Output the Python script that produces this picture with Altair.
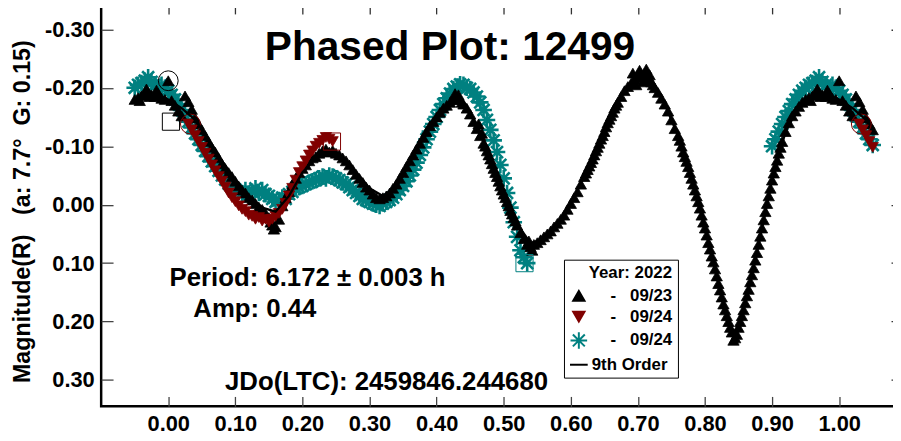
import altair as alt
import pandas as pd

# ---------------- data ----------------
series_keys = ["A", "B", "C", "D"]
legend_names = ["\u200b\u00a0\u00a0\u00a0\u00a0-\u00a0\u00a0\u00a009/23",
                "\u200b\u00a0\u00a0\u00a0\u00a0-\u00a0\u00a0\u00a009/24",
                "\u200b\u00a0\u00a0\u00a0\u00a0-\u00a0\u00a0\u00a009/24",
                "9th Order"]

# 09/23 (black triangles)
black_phase = [
    0.000, 0.005, 0.010, 0.015, 0.020, 0.025, 0.030, 0.035, 0.040, 0.045,
    0.050, 0.055, 0.060, 0.065, 0.070, 0.075, 0.080, 0.085, 0.090, 0.095,
    0.100, 0.105, 0.110, 0.115, 0.120, 0.125, 0.130, 0.135, 0.140, 0.145,
    0.150, 0.155, 0.160, 0.165, 0.170, 0.175, 0.180, 0.185, 0.190, 0.195,
    0.200, 0.205, 0.210, 0.215, 0.220, 0.225, 0.230, 0.235, 0.240, 0.245,
    0.250, 0.255, 0.260, 0.265, 0.270, 0.275, 0.280, 0.285, 0.290, 0.295,
    0.300, 0.305, 0.310, 0.315, 0.320, 0.325, 0.330, 0.335, 0.340, 0.345,
    0.350, 0.355, 0.360, 0.365, 0.370, 0.375, 0.380, 0.385, 0.390, 0.395,
    0.400, 0.405, 0.410, 0.415, 0.420, 0.425, 0.430, 0.435, 0.440, 0.445,
    0.450, 0.455, 0.460, 0.465, 0.470, 0.475, 0.480, 0.485, 0.490, 0.495,
    0.500, 0.505, 0.510, 0.515, 0.520, 0.525, 0.530, 0.535, 0.540, 0.545,
    0.550, 0.555, 0.560, 0.565, 0.570, 0.575, 0.580, 0.585, 0.590, 0.595,
    0.600, 0.605, 0.610, 0.615, 0.620, 0.625, 0.630, 0.635, 0.640, 0.645,
    0.650, 0.655, 0.660, 0.665, 0.670, 0.675, 0.680, 0.685, 0.690, 0.695,
    0.700, 0.705, 0.710, 0.715, 0.720, 0.725, 0.730, 0.735, 0.740, 0.745,
    0.750, 0.755, 0.760, 0.765, 0.770, 0.775, 0.780, 0.785, 0.790, 0.795,
    0.800, 0.805, 0.810, 0.815, 0.820, 0.825, 0.830, 0.835, 0.840, 0.845,
    0.850, 0.855, 0.860, 0.865, 0.870, 0.875, 0.880, 0.885, 0.890, 0.895,
    0.900, 0.905, 0.910, 0.915, 0.920, 0.925, 0.930, 0.935, 0.940, 0.945,
    0.950, 0.955, 0.960, 0.965, 0.970, 0.975, 0.980, 0.985, 0.990, 0.995,
]
black_mag = [
    -0.212, -0.178, -0.170, -0.160, -0.152, -0.186, -0.176, -0.163, -0.148, -0.138,
    -0.128, -0.118, -0.108, -0.098, -0.090, -0.080, -0.070, -0.062, -0.055, -0.048,
    -0.040, -0.032, -0.025, -0.020, -0.012, -0.008, -0.002, 0.004, 0.008, 0.015,
    0.022, 0.035, 0.038, 0.025, 0.002, -0.012, -0.022, -0.035, -0.045, -0.055,
    -0.062, -0.068, -0.075, -0.080, -0.082, -0.088, -0.092, -0.095, -0.090, -0.093,
    -0.088, -0.085, -0.080, -0.075, -0.068, -0.060, -0.052, -0.045, -0.038, -0.030,
    -0.025, -0.018, -0.012, -0.010, -0.012, -0.015, -0.020, -0.028, -0.035, -0.045,
    -0.055, -0.065, -0.075, -0.085, -0.095, -0.105, -0.115, -0.125, -0.135, -0.142,
    -0.150, -0.158, -0.165, -0.170, -0.175, -0.180, -0.182, -0.180, -0.172, -0.165,
    -0.155, -0.142, -0.130, -0.118, -0.105, -0.092, -0.078, -0.062, -0.048, -0.032,
    -0.018, -0.005, 0.010, 0.022, 0.035, 0.048, 0.058, 0.068, 0.072, 0.068,
    0.065, 0.060, 0.055, 0.050, 0.045, 0.038, 0.032, 0.025, 0.018, 0.008,
    -0.002, -0.012, -0.022, -0.035, -0.048, -0.060, -0.072, -0.085, -0.098, -0.112,
    -0.125, -0.140, -0.152, -0.165, -0.175, -0.185, -0.195, -0.202, -0.208, -0.215,
    -0.222, -0.218, -0.225, -0.215, -0.210, -0.200, -0.192, -0.182, -0.172, -0.160,
    -0.145, -0.130, -0.118, -0.100, -0.082, -0.065, -0.045, -0.025, -0.005, 0.018,
    0.040, 0.065, 0.088, 0.110, 0.135, 0.158, 0.180, 0.200, 0.218, 0.228,
    0.210, 0.190, 0.168, 0.145, 0.120, 0.095, 0.068, 0.040, 0.012, -0.015,
    -0.042, -0.065, -0.088, -0.108, -0.125, -0.140, -0.152, -0.160, -0.168, -0.175,
    -0.180, -0.183, -0.186, -0.190, -0.192, -0.188, -0.185, -0.190, -0.182, -0.180,
]
# more 09/23 observations in the steep branches and around the extremes
black_phase_b = [
    0.1525, 0.1575, 0.4275, 0.4325, 0.4375,
    0.4625, 0.4675, 0.4725, 0.4775, 0.4825, 0.4875, 0.4925, 0.4975, 0.5025, 0.5075,
    0.5125, 0.5175, 0.5375, 0.5425,
    0.6225, 0.6275, 0.6325, 0.6375, 0.6425, 0.6475, 0.6525, 0.6575, 0.6625, 0.6675,
    0.6925, 0.6975, 0.7025, 0.7075, 0.7125, 0.7175, 0.7225,
    0.7625, 0.7675, 0.7725, 0.7775, 0.7825, 0.7875, 0.7925, 0.7975, 0.8025, 0.8075,
    0.8125, 0.8175, 0.8225, 0.8275, 0.8325, 0.8375, 0.8425,
    0.8475, 0.8525, 0.8575, 0.8625, 0.8675, 0.8725, 0.8775, 0.8825, 0.8875, 0.8925,
    0.8975, 0.9025, 0.9075, 0.9125,
    0.9575, 0.9675, 0.9725, 0.9825,
]
black_mag_b = [
    0.030, 0.042, -0.190, -0.188, -0.175,
    -0.138, -0.122, -0.100, -0.085, -0.070, -0.055, -0.040, -0.025, -0.012, 0.002,
    0.016, 0.028, 0.062, 0.078,
    -0.054, -0.066, -0.078, -0.092, -0.105, -0.118, -0.133, -0.146, -0.158, -0.170,
    -0.225, -0.205, -0.230, -0.210, -0.232, -0.222, -0.205,
    -0.110, -0.090, -0.074, -0.055, -0.035, -0.015, 0.006, 0.030, 0.052, 0.076,
    0.098, 0.122, 0.146, 0.170, 0.190, 0.210, 0.232,
    0.222, 0.200, 0.180, 0.156, 0.132, 0.108, 0.082, 0.054, 0.026, -0.002,
    -0.028, -0.054, -0.076, -0.098,
    -0.178, -0.198, -0.185, -0.196,
]

# 09/24 (dark red triangles down)
red_phase = [
    0.030, 0.035, 0.040, 0.045, 0.050, 0.055, 0.060, 0.065, 0.070, 0.075,
    0.080, 0.085, 0.090, 0.095, 0.100, 0.105, 0.110, 0.115, 0.120, 0.125,
    0.130, 0.135, 0.140, 0.145, 0.150, 0.155, 0.160, 0.165, 0.170, 0.175,
    0.180, 0.185, 0.190, 0.195, 0.200, 0.205, 0.210, 0.215, 0.220, 0.225,
    0.230, 0.235, 0.240, 0.245,
]
red_mag = [
    -0.138, -0.128, -0.118, -0.108, -0.098, -0.088, -0.078, -0.068, -0.058, -0.048,
    -0.040, -0.030, -0.020, -0.012, -0.005, 0.002, 0.008, 0.012, 0.018, 0.020,
    0.025, 0.022, 0.028, 0.025, 0.030, 0.025, 0.020, 0.015, 0.008, -0.002,
    -0.015, -0.028, -0.042, -0.055, -0.065, -0.075, -0.085, -0.092, -0.100, -0.105,
    -0.110, -0.115, -0.112, -0.108,
]

# 09/24 (teal asterisks)
teal_phase = [
    0.900, 0.905, 0.910, 0.915, 0.920, 0.925, 0.930, 0.935, 0.940, 0.945,
    0.950, 0.955, 0.960, 0.965, 0.970, 0.975, 0.980, 0.985, 0.990, 0.995,
    0.000, 0.005, 0.010, 0.015, 0.020, 0.025, 0.030, 0.035, 0.040, 0.045,
    0.050, 0.055, 0.060, 0.065, 0.070, 0.075, 0.080, 0.085, 0.090, 0.095,
    0.100, 0.105, 0.110, 0.115, 0.120, 0.125, 0.130, 0.135, 0.140, 0.145,
    0.150, 0.155, 0.160, 0.165, 0.170, 0.175, 0.180, 0.185, 0.190, 0.195,
    0.200, 0.205, 0.210, 0.215, 0.220, 0.225, 0.230, 0.235, 0.240, 0.245,
    0.250, 0.255, 0.260, 0.265, 0.270, 0.275, 0.280, 0.285, 0.290, 0.295,
    0.300, 0.305, 0.310, 0.315, 0.320, 0.325, 0.330, 0.335, 0.340, 0.345,
    0.350, 0.355, 0.360, 0.365, 0.370, 0.375, 0.380, 0.385, 0.390, 0.395,
    0.400, 0.405, 0.410, 0.415, 0.420, 0.425, 0.430, 0.435, 0.440, 0.445,
    0.450, 0.455, 0.460, 0.465, 0.470, 0.475, 0.480, 0.485, 0.490, 0.495,
    0.500, 0.505, 0.510, 0.515, 0.520, 0.525, 0.530, 0.535,
]
teal_mag = [
    -0.100, -0.112, -0.125, -0.138, -0.150, -0.160, -0.172, -0.180, -0.188, -0.195,
    -0.200, -0.205, -0.208, -0.212, -0.218, -0.210, -0.205, -0.198, -0.205, -0.200,
    -0.195, -0.188, -0.180, -0.172, -0.162, -0.152, -0.142, -0.132, -0.122, -0.112,
    -0.102, -0.092, -0.083, -0.074, -0.066, -0.058, -0.050, -0.043, -0.036, -0.030,
    -0.026, -0.022, -0.020, -0.025, -0.018, -0.022, -0.028, -0.020, -0.025, -0.018,
    -0.015, -0.010, -0.005, -0.008, -0.012, -0.010, -0.018, -0.022, -0.028, -0.030,
    -0.032, -0.035, -0.038, -0.040, -0.042, -0.045, -0.048, -0.045, -0.050, -0.048,
    -0.045, -0.042, -0.038, -0.035, -0.030, -0.025, -0.020, -0.015, -0.010, -0.008,
    -0.005, -0.002, 0.000, 0.002, -0.002, -0.005, -0.008, -0.012, -0.018, -0.025,
    -0.032, -0.040, -0.050, -0.060, -0.072, -0.085, -0.098, -0.112, -0.125, -0.138,
    -0.150, -0.162, -0.172, -0.182, -0.190, -0.198, -0.202, -0.206, -0.205, -0.200,
    -0.198, -0.192, -0.185, -0.175, -0.162, -0.145, -0.128, -0.110, -0.090, -0.068,
    -0.045, -0.020, 0.005, 0.030, 0.055, 0.078, 0.090, 0.100,
]

# 9th order Fourier fit
fit_phase = [0.00, 0.02, 0.04, 0.06, 0.08, 0.10, 0.12, 0.14, 0.16, 0.18,
             0.20, 0.22, 0.24, 0.26, 0.28, 0.30, 0.32, 0.34, 0.36, 0.38,
             0.40, 0.42, 0.44, 0.46, 0.48, 0.50, 0.52, 0.54, 0.56, 0.58,
             0.60, 0.62, 0.64, 0.66, 0.68, 0.70, 0.72, 0.74, 0.76, 0.78,
             0.80, 0.82, 0.84, 0.845, 0.86, 0.88, 0.90, 0.92, 0.94, 0.96, 0.98]
fit_mag = [-0.180, -0.165, -0.145, -0.112, -0.075, -0.042, -0.015, 0.005, 0.012, -0.015,
           -0.055, -0.080, -0.088, -0.080, -0.055, -0.028, -0.015, -0.030, -0.072, -0.115,
           -0.150, -0.172, -0.175, -0.135, -0.080, -0.020, 0.033, 0.066, 0.058, 0.033,
           -0.002, -0.048, -0.098, -0.152, -0.195, -0.218, -0.210, -0.172, -0.118, -0.045,
           0.040, 0.135, 0.215, 0.225, 0.168, 0.068, -0.042, -0.125, -0.168, -0.186, -0.188]

# first / last observation markers
circle_phase = [0.000, 0.033, 1.033]
circle_mag = [-0.212, -0.138, -0.138]
circle_series = ["A", "B", "B"]
square_phase = [0.004, 0.244, 0.531]
square_mag = [-0.142, -0.108, 0.100]
square_series = ["A", "B", "C"]

x_ticks = [0.0, 0.1, 0.2, 0.3, 0.4, 0.5, 0.6, 0.7, 0.8, 0.9, 1.0]
y_ticks = [-0.3, -0.2, -0.1, 0.0, 0.1, 0.2, 0.3]

title_text = "Phased Plot: 12499"
period_text = "Period: 6.172 \u00b1 0.003 h"
amp_text = "Amp: 0.44"
jd_text = "JDo(LTC): 2459846.244680"
y_title = "Magnitude(R)\u00a0\u00a0\u00a0(a: 7.7\u00b0\u00a0\u00a0G: 0.15)"
legend_title = "Year: 2022"


def phased(phases, mags, key, wrap):
    rows = []
    for p, m in zip(phases, mags):
        rows.append({"phase": p, "mag": m, "series": key})
        if p < wrap:
            rows.append({"phase": p + 1.0, "mag": m, "series": key})
        if p > 1.0 - wrap:
            rows.append({"phase": p - 1.0, "mag": m, "series": key})
    return rows


black_df = pd.DataFrame(phased(black_phase + black_phase_b, black_mag + black_mag_b, "A", 0.055))
red_df = pd.DataFrame(phased(red_phase, red_mag, "B", 0.055))
teal_df = pd.DataFrame(phased(teal_phase, teal_mag, "C", 0.055))
fit_df = pd.DataFrame(phased(fit_phase, fit_mag, "D", 0.05)).sort_values("phase")
circ_df = pd.DataFrame({"phase": circle_phase, "mag": circle_mag, "series": circle_series})
sq_df = pd.DataFrame({"phase": square_phase, "mag": square_mag, "series": square_series})

FONT = "Liberation Sans"
ASTERISK = "M-1,0L1,0M0,-1L0,1M-0.72,-0.72L0.72,0.72M-0.72,0.72L0.72,-0.72"

xscale = alt.Scale(domain=[-0.10, 1.095], nice=False, zero=False)
yscale = alt.Scale(domain=[-0.345, 0.345], reverse=True, nice=False, zero=False)
fill_scale = alt.Scale(domain=series_keys, range=["#000000", "#800000", "transparent", "transparent"])
stroke_scale = alt.Scale(domain=series_keys, range=["#000000", "#800000", "#008080", "#000000"])
shape_scale = alt.Scale(domain=series_keys, range=["triangle-up", "triangle-down", ASTERISK, "stroke"])
size_scale = alt.Scale(type="ordinal", domain=series_keys, range=[130, 130, 280, 320])

label_expr = ""
for k, n in zip(series_keys[:-1], legend_names[:-1]):
    label_expr += "datum.value == '%s' ? '%s' : " % (k, n)
label_expr += "'%s'" % legend_names[-1]

legend = alt.Legend(
    orient="none", legendX=467, legendY=259, title=legend_title,
    titleAnchor="end", titleFont=FONT, titleFontSize=17, titleFontWeight="bold",
    titleColor="black", titlePadding=6, labelExpr=label_expr, labelFont=FONT,
    labelFontSize=17, labelFontWeight="bold", labelColor="black", labelOffset=3,
    fillColor="white", strokeColor="black", padding=5, rowPadding=2,
    symbolStrokeWidth=2, symbolOpacity=1,
)

num_expr = "(datum.value < -0.0001 ? '-' : '') + format(abs(datum.value), '.2f')"

bottom_axis = alt.Axis(orient="bottom", values=x_ticks, offset=-10, tickSize=10,
                       tickColor="#444444", tickWidth=1.3, domain=False, grid=False,
                       labelExpr=num_expr, labelFont=FONT, labelFontSize=22,
                       labelFontWeight="bold", labelColor="black", labelPadding=7,
                       labelFlush=False, labelOverlap=False, title=None)
left_axis = alt.Axis(orient="left", values=y_ticks, offset=-12, tickSize=12,
                     tickColor="#444444", tickWidth=1.3, domain=False, grid=False,
                     labelExpr=num_expr, labelFont=FONT, labelFontSize=22,
                     labelFontWeight="bold", labelColor="black", labelPadding=7,
                     labelFlush=False, labelOverlap=False,
                     title=y_title, titleFont=FONT, titleFontSize=23.5,
                     titleFontWeight="bold", titleColor="black", titleAngle=270,
                     titleX=-91, titleY=210, titleAlign="center", titleBaseline="middle")
top_axis = alt.Axis(orient="top", values=x_ticks, offset=-11, tickSize=11,
                    tickColor="#333333", tickWidth=1.3, domain=False, grid=False,
                    labels=False, title=None)
right_axis = alt.Axis(orient="right", values=y_ticks, offset=-12, tickSize=12,
                      tickColor="#333333", tickWidth=1.3, domain=False, grid=False,
                      labels=False, title=None)


def enc_points(chart, xaxis=None, yaxis=None):
    return chart.encode(
        x=alt.X("phase:Q", scale=xscale, axis=xaxis),
        y=alt.Y("mag:Q", scale=yscale, axis=yaxis),
        fill=alt.Fill("series:N", scale=fill_scale, legend=legend),
        stroke=alt.Stroke("series:N", scale=stroke_scale, legend=legend),
        shape=alt.Shape("series:N", scale=shape_scale, legend=legend),
        size=alt.Size("series:N", scale=size_scale, legend=legend),
    )


teal_layer = enc_points(alt.Chart(teal_df).mark_point(filled=False, strokeWidth=2.6, opacity=1),
                        top_axis, right_axis)
black_layer = enc_points(alt.Chart(black_df).mark_point(filled=True, strokeWidth=0.8, opacity=1))
red_layer = enc_points(alt.Chart(red_df).mark_point(filled=True, strokeWidth=0.8, opacity=1))

circ_layer = alt.Chart(circ_df).mark_point(shape="circle", filled=False, size=400,
                                           strokeWidth=1, opacity=1).encode(
    x=alt.X("phase:Q", scale=xscale, axis=None),
    y=alt.Y("mag:Q", scale=yscale, axis=None),
    stroke=alt.Stroke("series:N", scale=stroke_scale, legend=legend),
)
sq_layer = alt.Chart(sq_df).mark_point(shape="square", filled=False, size=300,
                                       strokeWidth=1, opacity=1).encode(
    x=alt.X("phase:Q", scale=xscale, axis=None),
    y=alt.Y("mag:Q", scale=yscale, axis=None),
    stroke=alt.Stroke("series:N", scale=stroke_scale, legend=legend),
)

fit_layer = alt.Chart(fit_df).mark_line(strokeWidth=2.4).encode(
    x=alt.X("phase:Q", scale=xscale, axis=bottom_axis),
    y=alt.Y("mag:Q", scale=yscale, axis=left_axis),
    stroke=alt.Stroke("series:N", scale=stroke_scale, legend=legend),
)


def text_layer(txt, x, y, size, align):
    return alt.Chart(alt.Data(values=[{}])).mark_text(
        align=align, baseline="alphabetic", font=FONT, fontSize=size,
        fontWeight="bold", color="black").encode(
        x=alt.value(x), y=alt.value(y), text=alt.value(txt))


chart = alt.layer(
    teal_layer, black_layer, red_layer, circ_layer, sq_layer, fit_layer,
    text_layer(title_text, 352, 58, 41, "center"),
    text_layer(period_text, 69, 286, 26, "left"),
    text_layer(amp_text, 93, 317, 26, "left"),
    text_layer(jd_text, 125, 390, 26, "left"),
).resolve_axis(x="independent", y="independent").properties(
    width=809, height=407,
    autosize=alt.AutoSizeParams(type="none"),
    padding={"left": 94, "top": -7, "right": -10, "bottom": 33},
    background="white",
).configure_view(stroke="black", strokeWidth=2.5)

chart.save("out.html", embed_options={"renderer": "svg", "actions": False})
